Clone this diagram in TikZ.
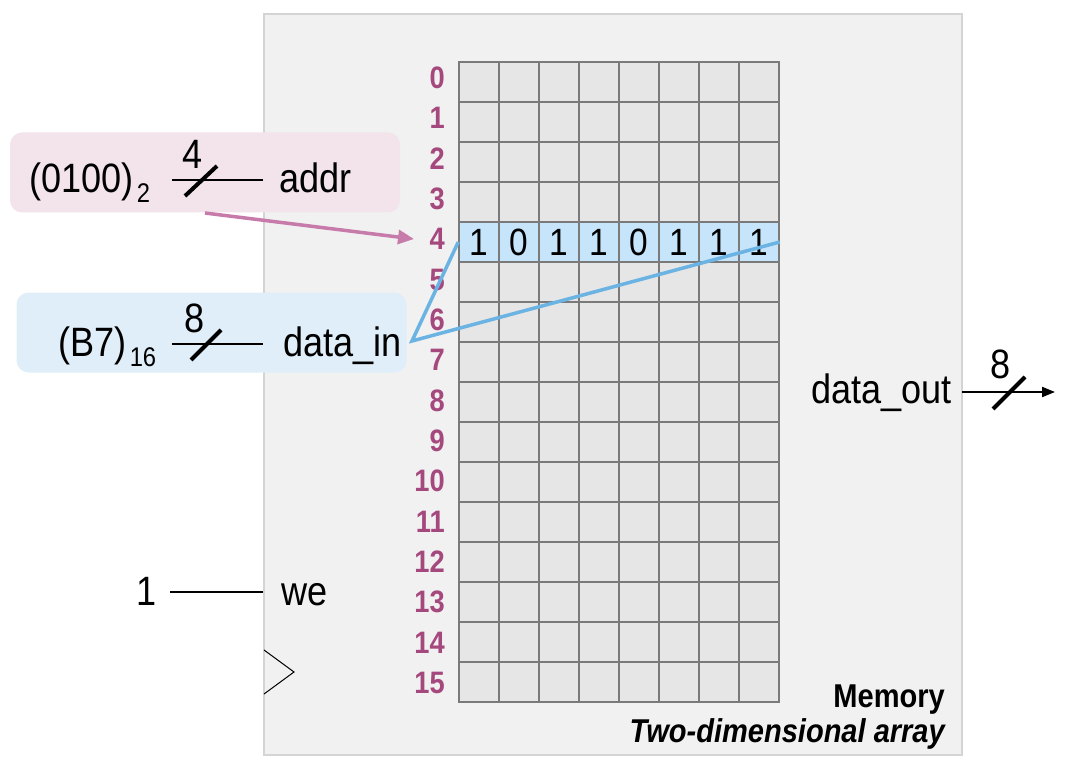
\documentclass[tikz,border=0pt]{standalone}
\usepackage{fontspec}
\setmainfont{Liberation Sans}[FakeStretch=0.88]
\usetikzlibrary{arrows.meta}
\definecolor{memfill}{HTML}{F1F1F1}
\definecolor{memdraw}{HTML}{D4D4D4}
\definecolor{cellfill}{HTML}{E6E6E6}
\definecolor{celldraw}{HTML}{7A7A7A}
\definecolor{hlfill}{HTML}{C6E5FB}
\definecolor{rowlab}{HTML}{A4487E}
\definecolor{addrfill}{HTML}{F2E4EA}
\definecolor{datafill}{HTML}{DFEEF9}
\definecolor{pinkline}{HTML}{C77BAA}
\definecolor{blueline}{HTML}{6BB3E3}
\newcommand\myfs[1]{\fontsize{#1}{#1}\selectfont}
\begin{document}
\begin{tikzpicture}[x=1pt,y=-1pt,
  membox/.style={draw=memdraw, line width=1.5pt, fill=memfill, minimum width=698pt, minimum height=741pt, inner sep=0pt},
  cell/.style={draw=celldraw, line width=1.5pt, fill=cellfill, minimum size=40pt, inner sep=0pt},
  hlcell/.style={cell, fill=hlfill, font=\myfs{38}},
  rowlbl/.style={text=rowlab, font=\myfs{31}\bfseries, anchor=east, inner sep=0pt},
  lbl/.style={font=\myfs{41}, inner sep=0pt},
  sublbl/.style={font=\myfs{27}, inner sep=0pt, anchor=base west},
  inbox/.style={rounded corners=12pt, minimum width=390pt, minimum height=80pt, inner sep=0pt},
  bus/.style={line width=2pt},
  slashmark/.style={line width=4pt},
  pinkarrow/.style={draw=pinkline, line width=3.5pt, -{Triangle[length=16pt,width=14pt]}},
  bluewire/.style={draw=blueline, line width=3.5pt, line join=miter}
]
\useasboundingbox (0,0) rectangle (1066,770);
% memory block
\node[membox] (mem) at (613,384.5) {};
% grid
\foreach \r in {0,1,2,3,5,6,7,8,9,10,11,12,13,14,15}{
  \foreach \c in {0,...,7}{
    \node[cell] (c\r-\c) at ({479+40*\c},{82+40*\r}) {};
  }
}
\foreach \b [count=\c from 0] in {1,0,1,1,0,1,1,1}{
  \node[hlcell] (c4-\c) at ({479+40*\c},242) {\b};
}
\foreach \r in {0,...,15}{
  \node[rowlbl] (r\r) at (445,{78+40.33*\r}) {\r};
}
% addr input
\node[inbox, fill=addrfill] (abox) at (205,172.5) {};
\node[lbl, anchor=base west] (aval) at (29,193) {(0100)};
\node[sublbl] (asub) at ([xshift=3pt,yshift=-10pt]aval.base east) {2};
\coordinate (aL) at (172,180);
\coordinate (aR) at (263,180);
\draw[bus] (aL) -- (aR);
\coordinate (as1) at (185,196);
\coordinate (as2) at (217,166);
\draw[slashmark] (as1) -- (as2);
\node[lbl] (awidth) at (193,154) {4};
\node[lbl, anchor=base west] (aname) at (279,193) {addr};
\coordinate (pa) at (205,213);
\coordinate (ptip) at (414,239);
\draw[pinkarrow] (pa) -- (ptip);
% data_in input
\node[inbox, fill=datafill] (dbox) at (211.5,332.5) {};
\node[lbl, anchor=base west] (dval) at (58,356) {(B7)};
\node[sublbl] (dsub) at ([xshift=3pt,yshift=-10pt]dval.base east) {16};
\coordinate (dL) at (172,344);
\coordinate (dR) at (263,344);
\draw[bus] (dL) -- (dR);
\coordinate (ds1) at (191,360);
\coordinate (ds2) at (221,330);
\draw[slashmark] (ds1) -- (ds2);
\node[lbl] (dwidth) at (195,318) {8};
\node[lbl, anchor=base west] (dname) at (283,356) {data\_in};
\coordinate (din) at (412,341);
\draw[bluewire] (c4-0.west) -- (din) -- (c4-7.east);
% data_out
\node[lbl, anchor=base east] (oname) at (952,403) {data\_out};
\coordinate (oL) at (962,392);
\coordinate (oR) at (1055,392);
\draw[bus, -{Triangle[length=13pt,width=10pt]}] (oL) -- (oR);
\coordinate (os1) at (993,409);
\coordinate (os2) at (1025,377);
\draw[slashmark] (os1) -- (os2);
\node[lbl] (owidth) at (1001,364) {8};
% we
\node[lbl, anchor=base east] (wone) at (157,605) {1};
\coordinate (wL) at (170,592);
\coordinate (wR) at (263,592);
\draw[bus] (wL) -- (wR);
\node[lbl, anchor=base west] (wname) at (281,605) {we};
% clock
\coordinate (k1) at (264,650);
\coordinate (k2) at (294,672);
\coordinate (k3) at (264,694);
\draw[line width=1pt] (k1) -- (k2) -- (k3);
% titles
\node[font=\myfs{33}\bfseries, anchor=base east, inner sep=0pt] (title) at (945,707) {Memory};
\node[font=\myfs{33}\bfseries\itshape, anchor=base east, inner sep=0pt] (subtitle) at (945,742) {Two-dimensional array};
\end{tikzpicture}
\end{document}
